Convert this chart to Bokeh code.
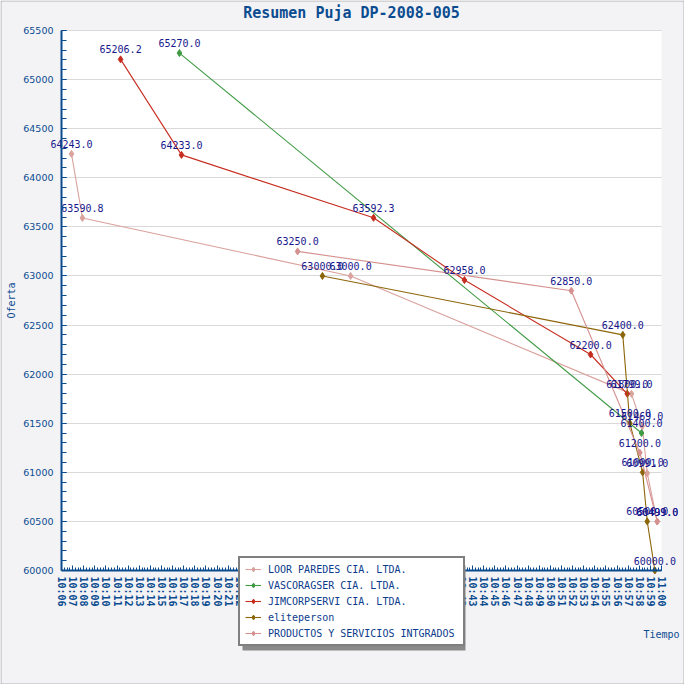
import math
from bokeh.plotting import figure
from bokeh.models import (Range1d, FixedTicker, SingleIntervalTicker, Label,
                          Legend, LegendItem, BoxAnnotation, ColumnDataSource)
from bokeh.core.properties import value
from bokeh.embed import file_html
from bokeh.resources import INLINE

TITLE = "Resumen Puja DP-2008-005"
X_TITLE = "Tiempo"
Y_TITLE = "Oferta"

SERIES_NAMES = ["LOOR PAREDES CIA. LTDA.", "VASCORAGSER CIA. LTDA.",
                "JIMCORPSERVI CIA. LTDA.", "eliteperson",
                "PRODUCTOS Y SERVICIOS INTGRADOS"]
SERIES_COLORS = ["#D9A29D", "#3F9A43", "#C62D1F", "#8C6508", "#D4918F"]

LOOR_TIMES = ["10:06:54", "10:07:53", "10:32:01", "10:57:18", "10:58:16", "10:58:43", "10:59:37"]
LOOR_VALUES = [64243.0, 63590.8, 63000.0, 61799.0, 61469.0, 60991.0, 60499.0]

VASCO_TIMES = ["10:16:37", "10:58:12"]
VASCO_VALUES = [65270.0, 61400.0]

JIMCORP_TIMES = ["10:11:19", "10:16:48", "10:34:05", "10:42:16", "10:53:37", "10:56:55"]
JIMCORP_VALUES = [65206.2, 64233.0, 63592.3, 62958.0, 62200.0, 61800.0]

ELITE_TIMES = ["10:29:29", "10:56:31", "10:57:09", "10:58:18", "10:58:43", "10:59:24"]
ELITE_VALUES = [63000.0, 62400.0, 61500.0, 61000.0, 60500.0, 60000.0]

PROD_TIMES = ["10:27:15", "10:51:53", "10:58:03", "10:59:37"]
PROD_VALUES = [63250.0, 62850.0, 61200.0, 60499.0]

TICK_LABELS = ["10:06", "10:07", "10:08", "10:09", "10:10", "10:11", "10:12", "10:13",
               "10:14", "10:15", "10:16", "10:17", "10:18", "10:19", "10:20", "10:21",
               "10:22", "10:23", "10:24", "10:25", "10:26", "10:27", "10:28", "10:29",
               "10:30", "10:31", "10:32", "10:33", "10:34", "10:35", "10:36", "10:37",
               "10:38", "10:39", "10:40", "10:41", "10:42", "10:43", "10:44", "10:45",
               "10:46", "10:47", "10:48", "10:49", "10:50", "10:51", "10:52", "10:53",
               "10:54", "10:55", "10:56", "10:57", "10:58", "10:59", "11:00"]

Y_MIN, Y_MAX = 60000, 65500


def to_min(t):
    parts = [int(v) for v in t.split(":")]
    h, m = parts[0], parts[1]
    s = parts[2] if len(parts) > 2 else 0
    return h * 60 + m + s / 60.0


SERIES = [(LOOR_TIMES, LOOR_VALUES), (VASCO_TIMES, VASCO_VALUES),
          (JIMCORP_TIMES, JIMCORP_VALUES), (ELITE_TIMES, ELITE_VALUES),
          (PROD_TIMES, PROD_VALUES)]

tick_vals = [to_min(t) for t in TICK_LABELS]
x_first, x_last = tick_vals[0], tick_vals[-1]

# layout (pixels on the canvas)
CANVAS = 684
PL, PR, PT, PB = 61, 661, 30, 570
ppx = (PR - PL) / (x_last - x_first)
ppy = (PB - PT) / (Y_MAX - Y_MIN)
x0 = x_first - PL / ppx
x1 = x0 + CANVAS / ppx
y1 = Y_MAX + PT / ppy
y0 = Y_MIN - (CANVAS - PB) / ppy

BLUE = "#0B4C91"
MONO = "DejaVu Sans Mono"
GRAY = "#F3F3F5"

p = figure(width=CANVAS, height=CANVAS, frame_width=CANVAS, frame_height=CANVAS,
           x_range=Range1d(x0, x1), y_range=Range1d(y0, y1),
           output_backend="svg", toolbar_location=None, title=None,
           min_border=0, min_border_left=0, min_border_right=0,
           min_border_top=0, min_border_bottom=0,
           background_fill_color=GRAY, border_fill_color=GRAY,
           outline_line_color=None)

# white plotting area
p.add_layout(BoxAnnotation(left=x_first, right=x_last, bottom=Y_MIN, top=Y_MAX,
                           fill_color="white", fill_alpha=1.0, line_color=None,
                           level="image"))

p.xgrid.visible = False
p.ygrid.grid_line_color = "#D9D9D9"
p.ygrid.grid_line_width = 1
p.ygrid.cross_bounds = (x_first, x_last)

# x axis
minor = []
m = x_first
while m <= x_last + 1e-9:
    minor.append(m)
    m += 0.25
xa = p.xaxis[0]
xa.fixed_location = Y_MIN
xa.bounds = (x_first, x_last)
xa.ticker = FixedTicker(ticks=tick_vals, minor_ticks=minor)
xa.major_label_overrides = {tv: lab for tv, lab in zip(tick_vals, TICK_LABELS)}
xa.major_label_orientation = "vertical"
xa.major_label_text_font = MONO
xa.major_label_text_font_style = "bold"
xa.major_label_text_font_size = "10px"
xa.major_label_text_color = BLUE
xa.major_label_standoff = 6
xa.axis_line_color = BLUE
xa.axis_line_width = 2
xa.major_tick_line_color = BLUE
xa.minor_tick_line_color = BLUE
xa.major_tick_in = 5
xa.major_tick_out = 0
xa.minor_tick_in = 3
xa.minor_tick_out = 0
xa.axis_label = X_TITLE
xa.axis_label_text_font = MONO
xa.axis_label_text_font_size = "10px"
xa.axis_label_text_font_style = "normal"
xa.axis_label_text_color = BLUE
xa.axis_label_standoff = 19
try:
    xa.axis_label_align = "end"
except Exception:
    pass

# y axis
ya = p.yaxis[0]
ya.fixed_location = x_first
ya.bounds = (Y_MIN, Y_MAX)
ya.ticker = SingleIntervalTicker(interval=500, num_minor_ticks=5)
ya.major_label_text_font = "DejaVu Sans"
ya.major_label_text_font_size = "9.5px"
ya.major_label_text_color = BLUE
ya.major_label_standoff = 8
ya.axis_line_color = BLUE
ya.axis_line_width = 2
ya.major_tick_line_color = BLUE
ya.minor_tick_line_color = BLUE
ya.major_tick_in = 5
ya.major_tick_out = 0
ya.minor_tick_in = 5
ya.minor_tick_out = 0
ya.axis_label = Y_TITLE
ya.axis_label_text_font = MONO
ya.axis_label_text_font_size = "10px"
ya.axis_label_text_font_style = "normal"
ya.axis_label_text_color = BLUE
ya.axis_label_standoff = 3

items = []
for name, color, (times, vals) in zip(SERIES_NAMES, SERIES_COLORS, SERIES):
    src = ColumnDataSource(dict(x=[to_min(t) for t in times], y=vals))
    lr = p.line("x", "y", source=src, line_color=color, line_width=1.1)
    sr = p.scatter("x", "y", source=src, marker="diamond", size=7,
                   fill_color=color, line_color=color)
    items.append(LegendItem(label=name, renderers=[lr, sr]))

for name, color, (times, vals) in zip(SERIES_NAMES, SERIES_COLORS, SERIES):
    src = ColumnDataSource(dict(x=[to_min(t) for t in times], y=vals,
                                label=["%.1f" % v for v in vals]))
    p.text("x", "y", text="label", source=src, text_align="center",
           text_baseline="middle", y_offset=-10, text_font=value(MONO),
           text_font_size="10px", text_color="#17178C")

# legend with its drop shadow
LEG_L, LEG_T, LEG_W, LEG_H = 238, 561, 223, 85
p.add_layout(BoxAnnotation(left=LEG_L + 4, right=LEG_L + LEG_W + 4,
                           bottom=CANVAS - (LEG_T + LEG_H + 4), top=CANVAS - (LEG_T + 4),
                           left_units="screen", right_units="screen",
                           bottom_units="screen", top_units="screen",
                           fill_color="#8A8A8A", fill_alpha=1.0, line_color=None))

legend = Legend(items=items, location=(LEG_L, CANVAS - (LEG_T + LEG_H)),
                orientation="vertical",
                border_line_color="black", border_line_width=2,
                background_fill_color="white", background_fill_alpha=1.0,
                label_text_font=MONO, label_text_font_size="10px",
                label_text_color="#0B3B8C", glyph_width=16, glyph_height=12,
                label_height=12, label_standoff=7, spacing=4, padding=5,
                margin=0, label_width=190)
p.add_layout(legend)

p.add_layout(Label(x=351, y=CANVAS - 12, x_units="screen", y_units="screen", text=TITLE,
                   text_align="center", text_baseline="middle", text_font=MONO,
                   text_font_size="15px", text_font_style="bold", text_color=BLUE))

# thin outer frame around the whole image
p.add_layout(BoxAnnotation(left=0.5, right=CANVAS - 0.5, bottom=0.5, top=CANVAS - 0.5,
                           left_units="screen", right_units="screen",
                           bottom_units="screen", top_units="screen",
                           fill_alpha=0.0, line_color="#222222", line_width=1))

open("out.html", "w").write(file_html(p, INLINE))
